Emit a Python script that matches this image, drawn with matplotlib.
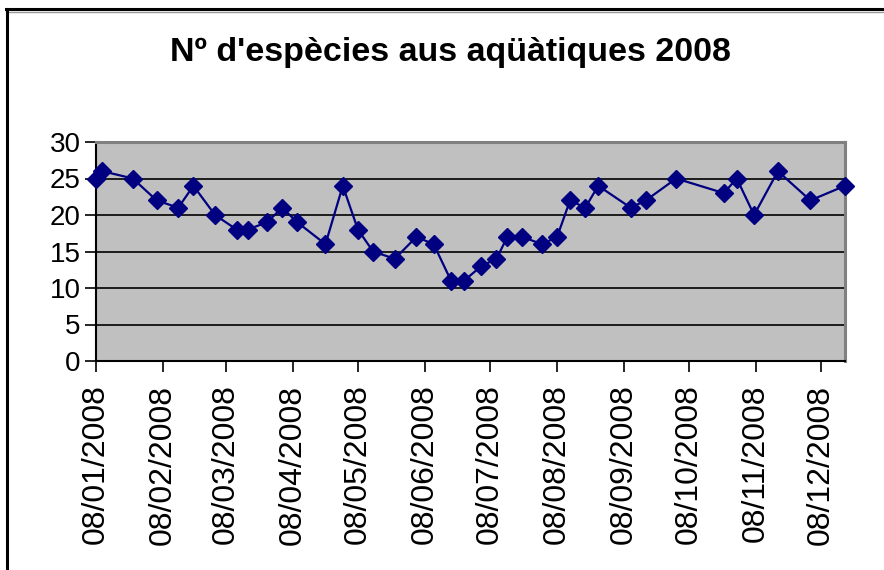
import matplotlib
matplotlib.use("Agg")
import matplotlib.pyplot as plt
import matplotlib.dates as mdates
from matplotlib.lines import Line2D
from datetime import date

# ── Data ──────────────────────────────────────────────────────────────────────
dates = [
    "2008-01-08", "2008-01-11", "2008-01-25", "2008-02-05", "2008-02-15",
    "2008-02-22", "2008-03-03", "2008-03-13", "2008-03-18", "2008-03-27",
    "2008-04-03", "2008-04-10", "2008-04-23", "2008-05-01", "2008-05-08",
    "2008-05-15", "2008-05-25", "2008-06-04", "2008-06-12", "2008-06-20",
    "2008-06-26", "2008-07-04", "2008-07-11", "2008-07-16", "2008-07-23",
    "2008-08-01", "2008-08-08", "2008-08-14", "2008-08-21", "2008-08-27",
    "2008-09-11", "2008-09-18", "2008-10-02", "2008-10-24", "2008-10-30",
    "2008-11-07", "2008-11-18", "2008-12-03", "2008-12-19",
]
species = [
    25, 26, 25, 22, 21, 24, 20, 18, 18, 19,
    21, 19, 16, 24, 18, 15, 14, 17, 16, 11,
    11, 13, 14, 17, 17, 16, 17, 22, 21, 24,
    21, 22, 25, 23, 25, 20, 26, 22, 24,
]
y_ticks = [0, 5, 10, 15, 20, 25, 30]
title = "Nº d'espècies aus aqüàtiques 2008"

x = [date.fromisoformat(d) for d in dates]

# ── Style ─────────────────────────────────────────────────────────────────────
C_LINE = "#000080"
C_PLOT = "#C0C0C0"
C_FRAME = "#808080"
plt.rcParams["font.family"] = ["Liberation Sans", "DejaVu Sans"]

fig = plt.figure(figsize=(8.84, 5.70), dpi=100)
fig.patch.set_facecolor("white")
ax = fig.add_axes([96 / 884, 1 - 361 / 570, (845 - 96) / 884, (361 - 142) / 570])
ax.set_facecolor(C_PLOT)

ax.plot(x, species, color=C_LINE, linewidth=1.6, marker="D",
        markersize=9, markerfacecolor=C_LINE, markeredgecolor=C_LINE,
        zorder=4, clip_on=False)

ax.set_xlim(x[0], x[-1])
ax.set_ylim(0, 30)
ax.set_yticks(y_ticks)
for v in y_ticks[1:-1]:
    ax.axhline(v, color="black", linewidth=1.2, zorder=2)

ax.xaxis.set_major_locator(mdates.MonthLocator(bymonthday=8))
ax.xaxis.set_major_formatter(mdates.DateFormatter("%d/%m/%Y"))
ax.tick_params(axis="x", labelrotation=90, labelsize=23, length=8,
               width=1.2, direction="out", pad=9)
ax.tick_params(axis="y", labelsize=20, length=8, width=1.2,
               direction="out", pad=3)

for side in ["top", "right"]:
    ax.spines[side].set_color(C_FRAME)
    ax.spines[side].set_linewidth(2.2)
for side in ["left", "bottom"]:
    ax.spines[side].set_color("black")
    ax.spines[side].set_linewidth(1.5)

fig.text(450 / 884, 1 - 52 / 570, title, ha="center", va="center",
         fontsize=24.5, fontweight="bold", color="black")

# chart-area frame (cropped at right and bottom)
fig.add_artist(Line2D([6 / 884, 1], [1 - 9 / 570] * 2, color="black",
                      linewidth=2.2, transform=fig.transFigure))
fig.add_artist(Line2D([6 / 884, 1], [1 - 11.5 / 570] * 2, color="#999999",
                      linewidth=1.0, transform=fig.transFigure))
fig.add_artist(Line2D([7 / 884] * 2, [0, 1 - 8.5 / 570], color="black",
                      linewidth=2.2, transform=fig.transFigure))

fig.savefig("out.png", dpi=100, facecolor="white")
